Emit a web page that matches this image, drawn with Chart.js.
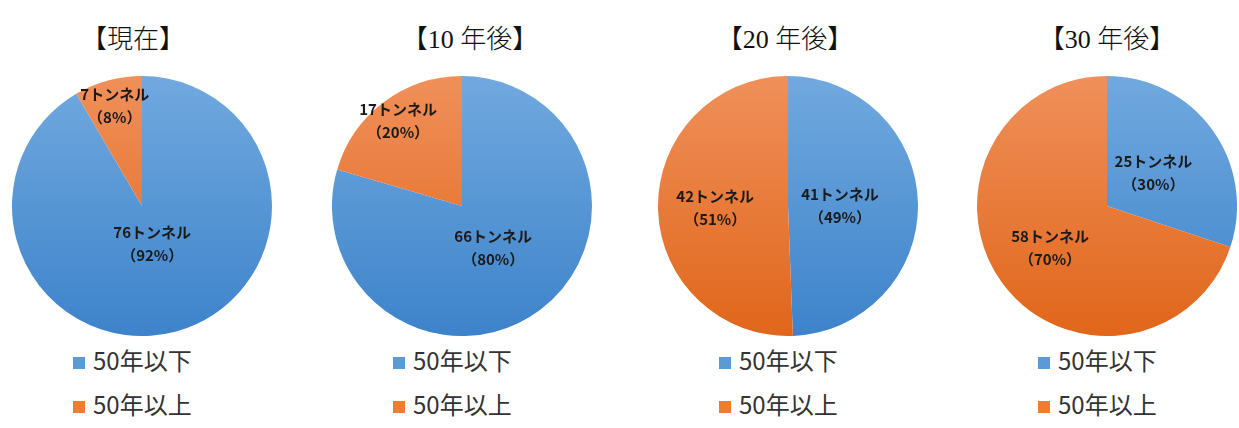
<!DOCTYPE html>
<html lang="ja">
<head>
<meta charset="utf-8">
<title>トンネル経過年数</title>
<script src="https://cdn.jsdelivr.net/npm/chart.js@4.4.1/dist/chart.umd.min.js"></script>
<style>
  html, body { margin: 0; padding: 0; background: #fff; }
  #board { position: relative; width: 1239px; height: 428px; overflow: hidden; }
  .title {
    position: absolute; top: 18px; width: 240px; text-align: center;
    font-family: "Liberation Serif", "DejaVu Serif", "Noto Sans CJK JP", serif;
    font-size: 26px; font-weight: 300; color: #111; white-space: pre;
  }
  .pie { position: absolute; width: 260px; height: 260px; }
  .legend {
    position: absolute; top: 344px;
    font-family: "Noto Sans CJK JP", "Noto Sans", sans-serif;
    font-size: 24px; color: #333;
  }
  .legend div { height: 44px; line-height: 32px; white-space: nowrap; }
  .legend span.box {
    display: inline-block; width: 12px; height: 12px; margin-right: 8px;
    vertical-align: 1px;
  }
</style>
</head>
<body>
<div id="board"></div>
<script>
// 経過年数別のトンネル数（現在・10年後・20年後・30年後）
const periods = ['【現在】', '【10 年後】', '【20 年後】', '【30 年後】'];
const categories = ['50年以下', '50年以上'];
const under50 = [76, 66, 41, 25];
const over50 = [7, 17, 42, 58];

// layout of each column (pie centre, title centre)
const pieCenters = [142, 462, 788, 1107];
const titleCenters = [133, 470, 785, 1107];
const pieCenterY = 206;
// how far from the centre each slice label sits (fraction of radius)
const labelRadius = [[0.30, 0.80], [0.40, 0.82], [0.40, 0.56], [0.44, 0.54]];

const baseColors = ['#5b9bd5', '#ed7d31'];
const gradStops = [['#71a9df', '#3d83ca'], ['#f0905a', '#e0661a']];

const board = document.getElementById('board');

// draws "NNトンネル" / "（NN%）" inside each slice
const sliceLabels = {
  id: 'sliceLabels',
  afterDatasetsDraw(chart, args, opts) {
    const ctx = chart.ctx;
    const data = chart.data.datasets[0].data;
    const total = data.reduce((a, b) => a + b, 0);
    const meta = chart.getDatasetMeta(0);
    ctx.save();
    ctx.fillStyle = '#1a1a1a';
    ctx.textAlign = 'center';
    ctx.textBaseline = 'middle';
    ctx.font = 'bold 15px "Noto Sans CJK JP", "Noto Sans", sans-serif';
    meta.data.forEach((arc, i) => {
      const p = arc.getProps(['x', 'y', 'startAngle', 'endAngle', 'outerRadius'], true);
      const mid = (p.startAngle + p.endAngle) / 2;
      const r = p.outerRadius * opts.radius[i];
      const x = p.x + Math.cos(mid) * r;
      const y = p.y + Math.sin(mid) * r;
      const pct = Math.round(data[i] / total * 100);
      ctx.fillText(data[i] + 'トンネル', x, y - 11);
      ctx.fillText('（' + pct + '%）', x, y + 12);
    });
    ctx.restore();
  }
};

// vertical gradient per slice, lighter at the top
function sliceFill(context) {
  const i = context.dataIndex;
  const area = context.chart.chartArea;
  if (!area) return baseColors[i];
  const g = context.chart.ctx.createLinearGradient(0, area.top, 0, area.bottom);
  g.addColorStop(0, gradStops[i][0]);
  g.addColorStop(1, gradStops[i][1]);
  return g;
}

periods.forEach((period, k) => {
  const title = document.createElement('div');
  title.className = 'title';
  title.style.left = (titleCenters[k] - 120) + 'px';
  title.textContent = period;
  board.appendChild(title);

  const wrap = document.createElement('div');
  wrap.className = 'pie';
  wrap.style.left = (pieCenters[k] - 130) + 'px';
  wrap.style.top = (pieCenterY - 130) + 'px';
  const canvas = document.createElement('canvas');
  wrap.appendChild(canvas);
  board.appendChild(wrap);

  const legend = document.createElement('div');
  legend.className = 'legend';
  legend.style.left = (pieCenters[k] - 69) + 'px';
  categories.forEach((c, i) => {
    const row = document.createElement('div');
    row.innerHTML = '<span class="box" style="background:' + baseColors[i] + '"></span>' + c;
    legend.appendChild(row);
  });
  board.appendChild(legend);

  new Chart(canvas, {
    type: 'pie',
    data: {
      labels: categories,
      datasets: [{
        data: [under50[k], over50[k]],
        backgroundColor: sliceFill,
        borderWidth: 0
      }]
    },
    options: {
      responsive: true,
      maintainAspectRatio: false,
      animation: false,
      layout: { padding: 0 },
      plugins: {
        legend: { display: false },
        tooltip: { enabled: false },
        sliceLabels: { radius: labelRadius[k] }
      }
    },
    plugins: [sliceLabels]
  });
});
</script>
</body>
</html>
